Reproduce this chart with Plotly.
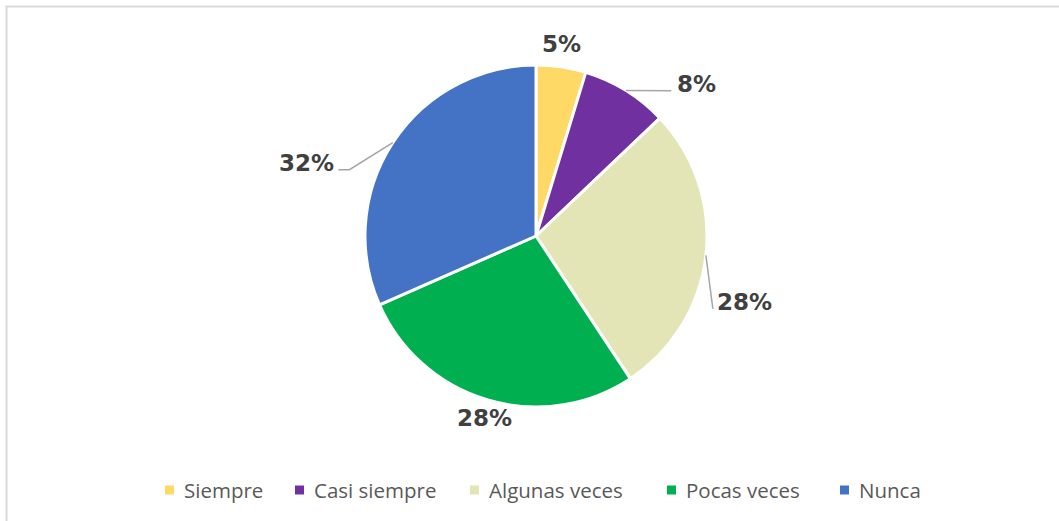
import math
import plotly.graph_objects as go

# ---------------- data ----------------
categories = ["Siempre", "Casi siempre", "Algunas veces", "Pocas veces", "Nunca"]
values = [4.7, 8.2, 27.8, 27.7, 31.6]          # share of each answer (%)
value_labels = ["5%", "8%", "28%", "28%", "32%"]

# ---------------- styles / layout ----------------
colors = ["#FFD966", "#7030A0", "#E4E5B7", "#00B050", "#4472C4"]
W, H = 1059, 521
cx, cy, R = 536, 236, 171                   # pie centre & radius (px)
label_angle_shift = [-0.8, 14.8, 11.0, -0.5, -15.4]   # deg, from slice middle
label_radius = [194, 221, 219, 189, 241]              # px from centre
label_halfwidth = [20, 20, 27, 27, 27]
show_leader = [False, True, True, False, True]
leader_stub = [0, 0, 0, 0, 11]
legend_left = [165, 295, 470, 667, 840]     # px, left edge of each legend key
legend_y = 490
key_size = 9

def px(x):
    return x / W

def py(y):
    return 1 - y / H

fig = go.Figure()
fig.add_trace(go.Pie(
    labels=categories, values=values, sort=False, direction="clockwise",
    rotation=0, textinfo="none", hoverinfo="label+percent",
    marker=dict(colors=colors, line=dict(color="white", width=3)),
    domain=dict(x=[px(cx - R), px(cx + R)], y=[py(cy + R), py(cy - R)]),
    showlegend=False,
))

shapes = []
annotations = []

# labels and leader lines, derived from slice angles
total = sum(values)
start = 0.0
for i, v in enumerate(values):
    span = v / total * 360.0
    mid = start + span / 2
    start += span
    a = math.radians(mid + label_angle_shift[i])
    lx = cx + label_radius[i] * math.sin(a)
    ly = cy - label_radius[i] * math.cos(a)
    annotations.append(dict(
        x=px(lx), y=py(ly), xref="paper", yref="paper", showarrow=False,
        text=value_labels[i], xanchor="center", yanchor="middle",
        font=dict(family="DejaVu Sans", size=23, color="#404040", weight="bold"),
    ))
    if show_leader[i]:
        m = math.radians(mid)
        sx = cx + R * math.sin(m)
        sy = cy - R * math.cos(m)
        side = 1 if lx > cx else -1
        ex = lx - side * (label_halfwidth[i] + 5)
        ey = ly + 7
        kx = ex - side * leader_stub[i]
        path = f"M{px(sx)},{py(sy)} L{px(kx)},{py(ey)} L{px(ex)},{py(ey)}"
        shapes.append(dict(type="path", path=path, xref="paper", yref="paper",
                           line=dict(color="#A6A6A6", width=1.5)))

# legend (square keys + text)
for name, col, x0 in zip(categories, colors, legend_left):
    shapes.append(dict(type="rect", xref="paper", yref="paper",
                       x0=px(x0), x1=px(x0 + key_size),
                       y0=py(legend_y + key_size / 2), y1=py(legend_y - key_size / 2),
                       fillcolor=col, line=dict(width=0)))
    annotations.append(dict(
        x=px(x0 + key_size + 8), y=py(legend_y), xref="paper", yref="paper",
        showarrow=False, text=name, xanchor="left", yanchor="middle",
        font=dict(family="Open Sans", size=20.5, color="#595959"),
    ))

# chart-area border
shapes.append(dict(type="rect", xref="paper", yref="paper",
                   x0=px(6.5), y0=py(530), x1=px(1070), y1=py(6.5),
                   line=dict(color="#D9D9D9", width=2), layer="below"))

fig.update_layout(
    width=W, height=H,
    margin=dict(l=0, r=0, t=0, b=0),
    paper_bgcolor="white", plot_bgcolor="white",
    showlegend=False,
    shapes=shapes, annotations=annotations,
)

fig.write_html("out.html")
